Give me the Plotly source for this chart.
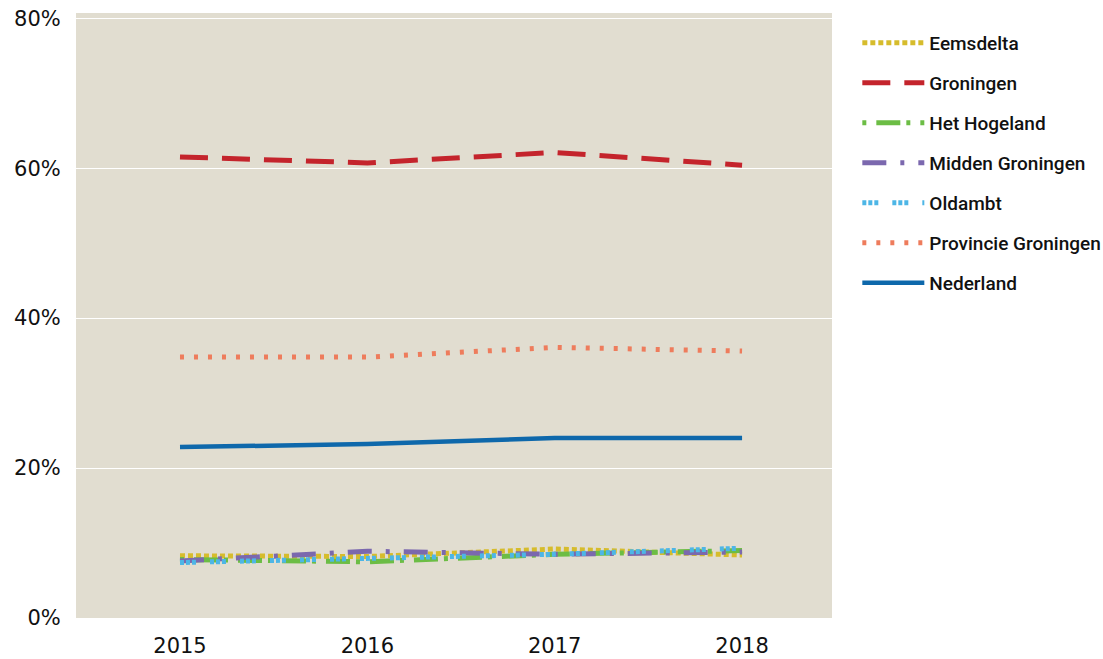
import plotly.graph_objects as go

years = ["2015", "2016", "2017", "2018"]

series_names = ["Eemsdelta", "Groningen", "Het Hogeland", "Midden Groningen",
                "Oldambt", "Provincie Groningen", "Nederland"]

eemsdelta = [8.3, 8.2, 9.2, 8.4]
groningen = [61.5, 60.7, 62.1, 60.4]
het_hogeland = [7.8, 7.5, 8.5, 9.0]
midden_groningen = [7.6, 8.9, 8.5, 8.8]
oldambt = [7.4, 8.0, 8.5, 9.3]
provincie_groningen = [34.8, 34.8, 36.1, 35.6]
nederland = [22.8, 23.2, 24.0, 24.0]

values = [eemsdelta, groningen, het_hogeland, midden_groningen,
          oldambt, provincie_groningen, nederland]

styles = [
    dict(color="#d6bc2c", width=5, dash="5px,3px"),
    dict(color="#c4242c", width=5, dash="28px,14px"),
    dict(color="#6cbd45", width=5, dash="4px,10px,24px,6px"),
    dict(color="#7b68ae", width=5, dash="24px,14px,4px,14px"),
    dict(color="#4db6e6", width=5, dash="4px,2px,4px,2px,4px,14px"),
    dict(color="#ee7c5c", width=5, dash="4px,10px"),
    dict(color="#0e68ab", width=4.5, dash="solid"),
]

fig = go.Figure()
for name, vals, st in zip(series_names, values, styles):
    fig.add_trace(go.Scatter(
        x=years, y=vals, name=name, mode="lines",
        line=st, legendgroup=name,
    ))

fig.update_layout(
    width=1103, height=659,
    margin=dict(l=76, r=271, t=13, b=41, autoexpand=False),
    paper_bgcolor="white",
    plot_bgcolor="#e1ddd0",
    showlegend=True,
    legend=dict(
        x=1.0335, y=0.982, xanchor="left", yanchor="top",
        font=dict(family="Roboto", size=19, color="#111", weight=500),
        itemwidth=62, tracegroupgap=12.3, bgcolor="rgba(0,0,0,0)",
    ),
    xaxis=dict(
        type="category", range=[-0.555, 3.48], automargin=False,
        showgrid=False, zeroline=False, showline=False,
        ticks="outside", ticklen=9, tickcolor="rgba(0,0,0,0)",
        tickfont=dict(family="DejaVu Sans", size=21, color="#111"),
        ticklabeloverflow="allow",
    ),
    yaxis=dict(
        range=[0, 80.7], tickvals=[0, 20, 40, 60, 80], automargin=False,
        ticktext=["0%", "20%", "40%", "60%", "80%"],
        showgrid=True, gridcolor="white", gridwidth=1, zeroline=False,
        ticks="outside", ticklen=10, tickcolor="rgba(0,0,0,0)",
        tickfont=dict(family="DejaVu Sans", size=21, color="#111"),
        ticklabeloverflow="allow",
    ),
)

fig.write_html(
    "out.html",
    config={"displayModeBar": False},
    post_script="document.body.style.margin='0';document.body.style.overflow='hidden';",
)
